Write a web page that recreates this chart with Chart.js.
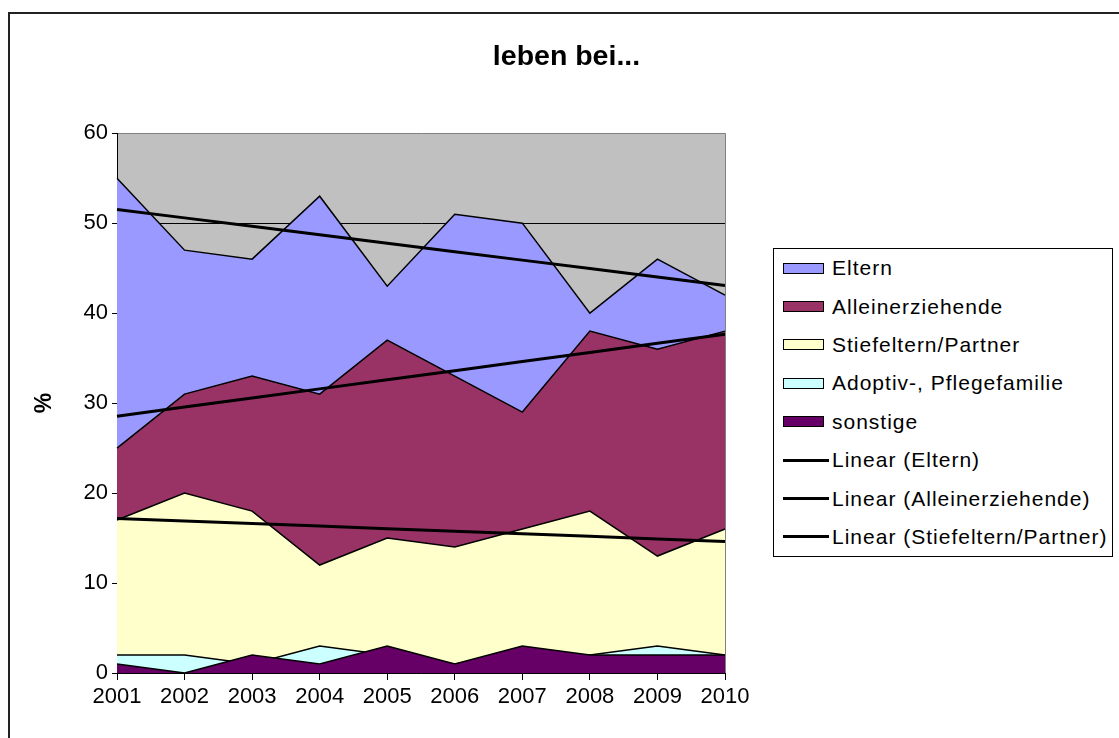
<!DOCTYPE html>
<html>
<head>
<meta charset="utf-8">
<script src="https://cdn.jsdelivr.net/npm/chart.js@4.4.1/dist/chart.umd.min.js"></script>
<style>
  html, body { margin: 0; padding: 0; background: #fff; overflow: hidden; }
  #frame { position: absolute; left: 8px; top: 12px; width: 1400px; height: 1000px; border: 2px solid #222; }
  #wrap { position: absolute; left: 0; top: 0; width: 1119px; height: 738px; }
  #legend {
    position: absolute; left: 773px; top: 248px; width: 340px; height: 309px;
    border: 1px solid #000; box-sizing: border-box; background: #fff; padding-top: 0px;
    font-family: 'Liberation Sans', Arial, sans-serif; font-size: 21px; letter-spacing: 1px; color: #000;
  }
  .item { height: 38.4px; display: flex; align-items: center; white-space: nowrap; }
  .swatch { width: 41px; height: 11px; border: 1.5px solid #000; box-sizing: border-box; margin-left: 9px; margin-right: 8px; }
  .line { width: 46px; height: 3px; background: #000; margin-left: 9px; margin-right: 3px; }
</style>
</head>
<body>
<div id="frame"></div>
<div id="wrap"><canvas id="chart" width="1119" height="738"></canvas></div>
<div id="legend"></div>
<script>
const years = ['2001', '2002', '2003', '2004', '2005', '2006', '2007', '2008', '2009', '2010'];
const eltern = [55, 47, 46, 53, 43, 51, 50, 40, 46, 42];
const alleinerziehende = [25, 31, 33, 31, 37, 33, 29, 38, 36, 38];
const stiefeltern = [17, 20, 18, 12, 15, 14, 16, 18, 13, 16];
const adoptiv = [2, 2, 1, 3, 2, 1, 2, 2, 3, 2];
const sonstige = [1, 0, 2, 1, 3, 1, 3, 2, 2, 2];
const yMin = 0;
const yMax = 60;
const yStep = 10;

const font = "'Liberation Sans', Arial, sans-serif";

// least squares trend, like the spreadsheet's "Linear" trendline
function linearTrend(values) {
  const n = values.length;
  const mx = (n - 1) / 2;
  const my = values.reduce((a, b) => a + b, 0) / n;
  let sxy = 0, sxx = 0;
  values.forEach((v, i) => { sxy += (i - mx) * (v - my); sxx += (i - mx) * (i - mx); });
  const slope = sxy / sxx;
  return values.map((_, i) => my + slope * (i - mx));
}

function area(label, data, color, order) {
  return { label, data, backgroundColor: color, borderColor: '#000', borderWidth: 1.5, fill: 'origin', pointRadius: 0, tension: 0, order };
}

function trend(label, data) {
  return { label, data: linearTrend(data), borderColor: '#000', backgroundColor: '#000', borderWidth: 3, fill: false, pointRadius: 0, tension: 0, order: 0, isTrend: true };
}

const plotFrame = {
  id: 'plotFrame',
  beforeDraw(chart) {
    const { ctx, chartArea: a } = chart;
    ctx.save();
    ctx.fillStyle = '#c0c0c0';
    ctx.fillRect(a.left, a.top, a.right - a.left, a.bottom - a.top);
    ctx.restore();
  },
  afterDatasetsDraw(chart) {
    const { ctx, chartArea: a } = chart;
    ctx.save();
    ctx.strokeStyle = '#808080';
    ctx.lineWidth = 1;
    ctx.beginPath();
    ctx.moveTo(a.right + 0.5, a.top);
    ctx.lineTo(a.right + 0.5, a.bottom);
    ctx.stroke();
    ctx.restore();
  }
};

const chart = new Chart(document.getElementById('chart'), {
  type: 'line',
  data: {
    labels: years,
    datasets: [
      area('Eltern', eltern, '#9999ff', 5),
      area('Alleinerziehende', alleinerziehende, '#993366', 4),
      area('Stiefeltern/Partner', stiefeltern, '#ffffcc', 3),
      area('Adoptiv-, Pflegefamilie', adoptiv, '#ccffff', 2),
      area('sonstige', sonstige, '#660066', 1),
      trend('Linear (Eltern)', eltern),
      trend('Linear (Alleinerziehende)', alleinerziehende),
      trend('Linear (Stiefeltern/Partner)', stiefeltern)
    ]
  },
  options: {
    responsive: false,
    animation: false,
    devicePixelRatio: 1,
    layout: { padding: { top: 12, right: 0, bottom: 0, left: 14 } },
    plugins: {
      legend: { display: false },
      tooltip: { enabled: false },
      title: {
        display: true,
        text: 'leben bei...',
        color: '#000',
        font: { family: font, size: 28.5, weight: 'bold' },
        padding: { top: 28, bottom: 59 }
      }
    },
    scales: {
      x: {
        type: 'category',
        offset: false,
        grid: { drawOnChartArea: false, tickLength: 7, tickColor: '#000' },
        border: { color: '#000', width: 1 },
        ticks: { color: '#000', font: { family: font, size: 22 }, padding: 4, maxRotation: 0, autoSkip: false },
        afterFit(scale) { scale.height = 65; }
      },
      y: {
        min: yMin,
        max: yMax,
        grid: {
          color: (ctx) => ctx.tick && ctx.tick.value === yMax ? '#808080' : '#000',
          tickColor: '#000',
          tickLength: 5,
          lineWidth: 1
        },
        border: { color: '#000', width: 1 },
        ticks: { stepSize: yStep, color: '#000', font: { family: font, size: 22 }, padding: 4 },
        title: { display: true, text: '%', color: '#000', font: { family: font, size: 23, weight: 'bold' }, padding: { top: 17, bottom: 0 } },
        afterFit(scale) { scale.width = 103; }
      },
      // empty right-hand box that keeps the room where the legend sits
      legendRoom: {
        position: 'right',
        display: true,
        grid: { display: false },
        border: { display: false },
        ticks: { display: false },
        afterFit(scale) { scale.width = 394; }
      }
    }
  },
  plugins: [plotFrame]
});

// legend built from the chart's own datasets
const legendEl = document.getElementById('legend');
chart.data.datasets.forEach((ds) => {
  const row = document.createElement('div');
  row.className = 'item';
  const mark = document.createElement('span');
  if (ds.isTrend) {
    mark.className = 'line';
  } else {
    mark.className = 'swatch';
    mark.style.background = ds.backgroundColor;
  }
  const text = document.createElement('span');
  text.textContent = ds.label;
  row.appendChild(mark);
  row.appendChild(text);
  legendEl.appendChild(row);
});
</script>
</body>
</html>
